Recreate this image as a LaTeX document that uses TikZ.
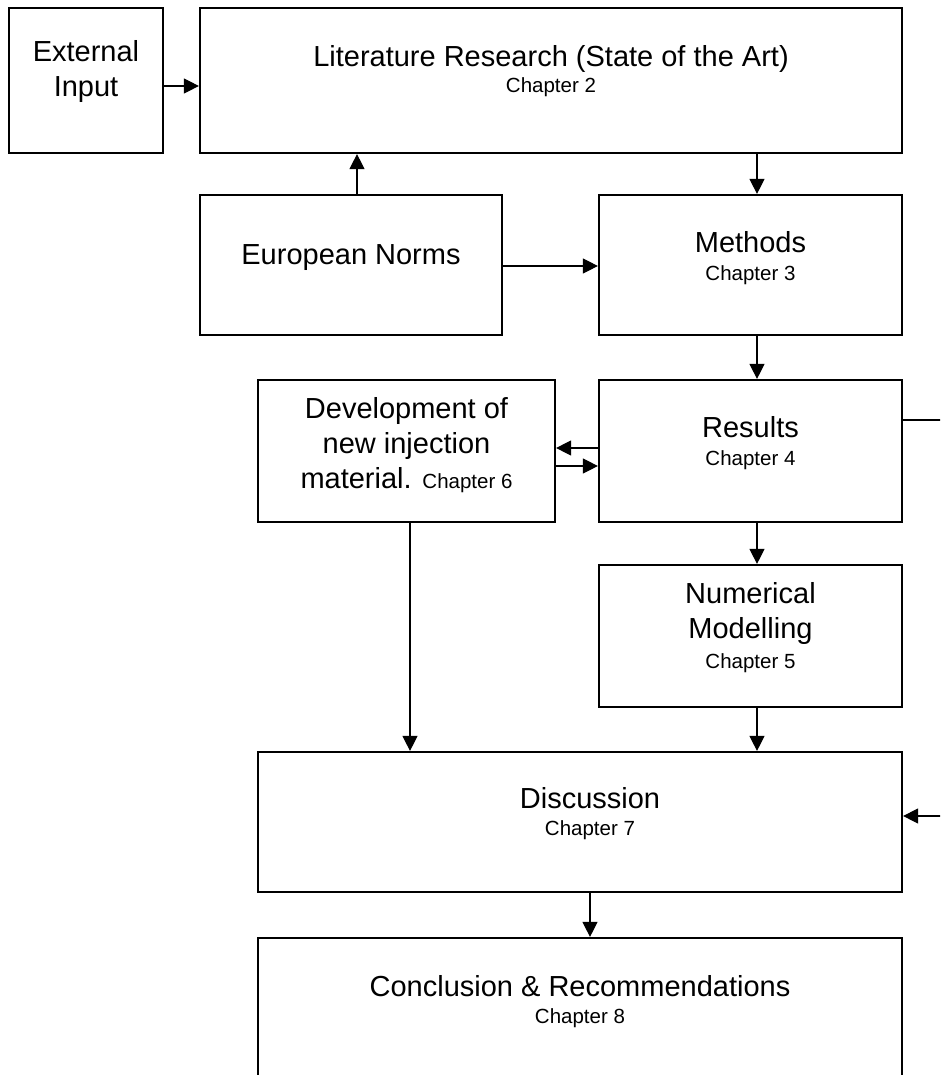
\documentclass[tikz,border=0pt]{standalone}
\usepackage{fontspec}
\setmainfont{Liberation Sans}
\usetikzlibrary{arrows.meta}
\begin{document}
\begin{tikzpicture}[x=1pt,y=-1pt,
  box/.style={draw,line width=2.2pt,inner sep=0pt},
  big/.style={font=\fontsize{29}{35}\selectfont,inner sep=0pt,anchor=base},
  small/.style={font=\fontsize{20.5}{24}\selectfont,inner sep=0pt,anchor=base},
  conn/.style={line width=1.2pt,-{Triangle[length=15pt,width=15pt]}},
  plain/.style={line width=1.2pt}]
\useasboundingbox (0,0) rectangle (940,1075);
\clip (0,0) rectangle (940,1075);
% boxes
\node[box,minimum width=154pt,minimum height=145pt] (ext) at (86,80.5) {};
\node[box,minimum width=702pt,minimum height=145pt] (lit) at (551,80.5) {};
\node[box,minimum width=302pt,minimum height=140pt] (norms) at (351,265) {};
\node[box,minimum width=303pt,minimum height=140pt] (meth) at (750.5,265) {};
\node[box,minimum width=297pt,minimum height=142pt] (dev) at (406.5,451) {};
\node[box,minimum width=303pt,minimum height=142pt] (res) at (750.5,451) {};
\node[box,minimum width=303pt,minimum height=142pt] (num) at (750.5,636) {};
\node[box,minimum width=644pt,minimum height=140pt] (disc) at (580,822) {};
\node[box,minimum width=644pt,minimum height=150pt] (concl) at (580,1013) {};
% texts
\node[big] (extT1) at (86,62) {External};
\node[big] (extT2) at (86,97) {Input};
\node[big] (litT) at (551,67) {Literature Research (State of the Art)};
\node[small] (litC) at (551,93) {Chapter 2};
\node[big] (normsT) at (351,265) {European Norms};
\node[big] (methT) at (750.5,252) {Methods};
\node[small] (methC) at (750.5,280) {Chapter 3};
\node[big] (devT1) at (406.5,418) {Development of};
\node[big] (devT2) at (406.5,453) {new injection};
\node[big] (devT3) at (406.5,488) {material. {\fontsize{20.5}{24}\selectfont Chapter 6}};
\node[big] (resT) at (750.5,437) {Results};
\node[small] (resC) at (750.5,465) {Chapter 4};
\node[big] (numT1) at (750.5,603) {Numerical};
\node[big] (numT2) at (750.5,638) {Modelling};
\node[small] (numC) at (750.5,668) {Chapter 5};
\node[big] (discT) at (590,808) {Discussion};
\node[small] (discC) at (590,835) {Chapter 7};
\node[big] (conclT) at (580,996) {Conclusion \& Recommendations};
\node[small] (conclC) at (580,1023) {Chapter 8};
% off-page coordinates
\coordinate (r1) at (945,420);
\coordinate (r2) at (945,816);
% connectors
\draw[conn] (ext.east |- 0,86) -- (lit.west |- 0,86);
\draw[conn] (norms.north -| 357,0) -- (lit.south -| 357,0);
\draw[conn] (lit.south -| 757,0) -- (meth.north -| 757,0);
\draw[conn] (norms.east |- 0,266) -- (meth.west |- 0,266);
\draw[conn] (meth.south -| 757,0) -- (res.north -| 757,0);
\draw[conn] (res.west |- 0,448) -- (dev.east |- 0,448);
\draw[conn] (dev.east |- 0,466) -- (res.west |- 0,466);
\draw[plain] (res.east |- r1) -- (r1);
\draw[conn] (res.south -| 757,0) -- (num.north -| 757,0);
\draw[conn] (num.south -| 757,0) -- (disc.north -| 757,0);
\draw[conn] (dev.south -| 410,0) -- (disc.north -| 410,0);
\draw[conn] (r2) -- (disc.east |- r2);
\draw[conn] (disc.south -| 590,0) -- (concl.north -| 590,0);
\end{tikzpicture}
\end{document}
